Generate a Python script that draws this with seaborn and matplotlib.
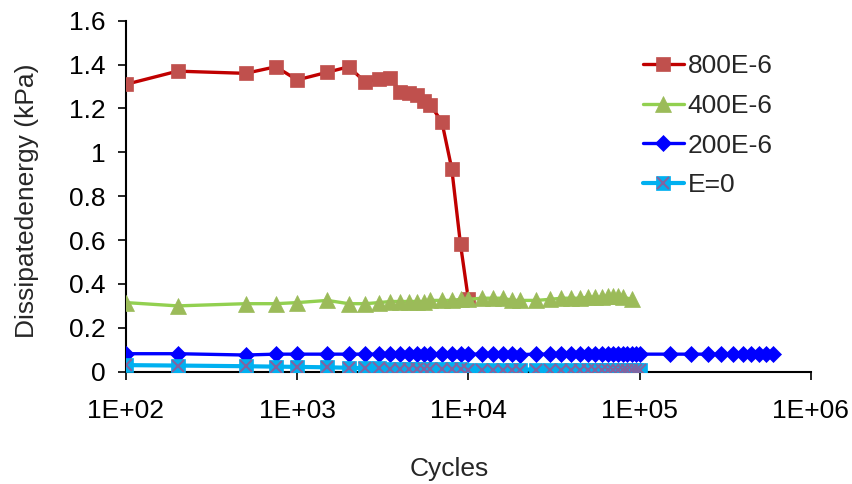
import numpy as np
import pandas as pd
import matplotlib
matplotlib.use("Agg")
import matplotlib.pyplot as plt
import seaborn as sns
from matplotlib.legend_handler import HandlerTuple
from matplotlib.ticker import FixedLocator, NullLocator

# data
cycles_800 = [100, 200, 500, 750, 1000, 1500, 2000, 2500, 3000, 3500, 4000, 4500,
              5000, 5500, 6000, 7000, 8000, 9000, 10000]
energy_800 = [1.31, 1.37, 1.36, 1.39, 1.33, 1.365, 1.39, 1.32, 1.335, 1.34, 1.275, 1.27,
              1.26, 1.235, 1.215, 1.14, 0.925, 0.58, 0.33]

cycles_400 = [100, 200, 500, 750, 1000, 1500, 2000, 2500, 3000, 3500, 4000, 4500,
              5000, 5500, 6000, 7000, 8000, 9000, 10000, 12000, 14000, 16000, 18000,
              20000, 25000, 30000, 35000, 40000, 45000, 50000, 55000, 60000, 65000,
              70000, 75000, 80000, 90000]
energy_400 = [0.315, 0.30, 0.31, 0.31, 0.315, 0.325, 0.31, 0.31, 0.315, 0.32, 0.32, 0.32,
              0.32, 0.32, 0.325, 0.325, 0.325, 0.33, 0.33, 0.335, 0.335, 0.335, 0.325,
              0.325, 0.325, 0.33, 0.335, 0.335, 0.335, 0.34, 0.34, 0.34, 0.345,
              0.345, 0.345, 0.34, 0.33]

cycles_200 = [100, 200, 500, 750, 1000, 1500, 2000, 2500, 3000, 3500, 4000, 4500,
              5000, 5500, 6000, 7000, 8000, 9000, 10000, 12000, 14000, 16000, 18000,
              20000, 25000, 30000, 35000, 40000, 45000, 50000, 55000, 60000, 65000,
              70000, 75000, 80000, 85000, 90000, 95000, 100000, 150000, 200000,
              250000, 300000, 350000, 400000, 450000, 500000, 550000, 600000]
energy_200 = [0.082, 0.082, 0.076, 0.08, 0.08, 0.08, 0.08, 0.08, 0.08, 0.08, 0.08, 0.08,
              0.08, 0.08, 0.08, 0.08, 0.08, 0.08, 0.08, 0.08, 0.08, 0.08, 0.08,
              0.078, 0.08, 0.08, 0.08, 0.08, 0.08, 0.08, 0.08, 0.08, 0.08,
              0.08, 0.08, 0.08, 0.08, 0.08, 0.08, 0.08, 0.08, 0.08,
              0.08, 0.08, 0.08, 0.08, 0.08, 0.08, 0.08, 0.08]

cycles_0 = [100, 200, 500, 750, 1000, 1500, 2000, 2500, 3000, 3500, 4000, 4500,
            5000, 5500, 6000, 7000, 8000, 9000, 10000, 12000, 14000, 16000, 18000,
            20000, 25000, 30000, 35000, 40000, 45000, 50000, 55000, 60000, 65000,
            70000, 75000, 80000, 85000, 90000, 95000, 100000]
energy_0 = [0.03, 0.028, 0.025, 0.023, 0.022, 0.02, 0.018, 0.016, 0.015, 0.014, 0.013, 0.013,
            0.012, 0.012, 0.012, 0.011, 0.011, 0.011, 0.01, 0.01, 0.01, 0.01, 0.01,
            0.01, 0.01, 0.009, 0.009, 0.009, 0.009, 0.009, 0.009, 0.008, 0.008,
            0.008, 0.008, 0.008, 0.008, 0.008, 0.008, 0.008]

tick_vals = [1e2, 1e3, 1e4, 1e5, 1e6]
tick_labels = ["1E+02", "1E+03", "1E+04", "1E+05", "1E+06"]

sns.set_style("white")
plt.rcParams["font.family"] = ["Liberation Sans", "DejaVu Sans"]
fs = 19

fig = plt.figure(figsize=(8.53, 4.84), dpi=100)
ax = fig.add_axes([126 / 853, 1 - 371.7 / 484, (810.7 - 126) / 853, (371.7 - 20.7) / 484])

df800 = pd.DataFrame({"Cycles": cycles_800, "energy": energy_800})
df400 = pd.DataFrame({"Cycles": cycles_400, "energy": energy_400})
df200 = pd.DataFrame({"Cycles": cycles_200, "energy": energy_200})
df0 = pd.DataFrame({"Cycles": cycles_0, "energy": energy_0})

sns.lineplot(data=df800, x="Cycles", y="energy", ax=ax, color="#C00000", lw=2.4,
             marker="s", markersize=10.5, markerfacecolor="#C0504D",
             markeredgecolor="#C0504D", markeredgewidth=0.5, zorder=3, label="800E-6")
sns.lineplot(data=df400, x="Cycles", y="energy", ax=ax, color="#92D050", lw=2.4,
             marker="^", markersize=11.5, markerfacecolor="#9BBB59",
             markeredgecolor="#9BBB59", markeredgewidth=0.5, zorder=4, label="400E-6")
sns.lineplot(data=df200, x="Cycles", y="energy", ax=ax, color="#0000FF", lw=2.4,
             marker="D", markersize=8, markerfacecolor="#0000FF",
             markeredgecolor="#0000FF", markeredgewidth=0.5, zorder=5, label="200E-6")
sns.lineplot(data=df0, x="Cycles", y="energy", ax=ax, color="#00B0F0", lw=3,
             marker="s", markersize=9.5, markerfacecolor="#00B0F0",
             markeredgecolor="#00B0F0", markeredgewidth=0.5, zorder=6, label="E=0")
sns.lineplot(data=df0, x="Cycles", y="energy", ax=ax, color="#8064A2", lw=0,
             marker="x", markersize=9, markeredgecolor="#8064A2",
             markeredgewidth=1.5, zorder=7, label="_x")

ax.set_xscale("log")
ax.set_xlim(1e2, 1e6)
ax.set_ylim(0, 1.6)
ax.xaxis.set_major_locator(FixedLocator(tick_vals))
ax.set_xticklabels(tick_labels)
ax.xaxis.set_minor_locator(NullLocator())
ax.set_yticks([0, 0.2, 0.4, 0.6, 0.8, 1.0, 1.2, 1.4, 1.6])
ax.set_yticklabels(["0", "0.2", "0.4", "0.6", "0.8", "1", "1.2", "1.4", "1.6"])

for side in ["top", "right"]:
    ax.spines[side].set_visible(False)
for side in ["left", "bottom"]:
    ax.spines[side].set_color("black")
    ax.spines[side].set_linewidth(1.5)
ax.tick_params(axis="both", which="major", direction="out", length=6, width=1.2,
               color="black", labelsize=fs, labelcolor="black")
ax.tick_params(axis="x", pad=14, bottom=True)
ax.tick_params(axis="y", pad=9, left=True)

ax.set_xlabel("Cycles", fontsize=fs)
ax.set_ylabel("Dissipatedenergy (kPa)", fontsize=fs)
ax.xaxis.set_label_coords((449 - 126) / 684.7, (371.7 - 457) / 351)
ax.yaxis.set_label_coords((39 - 126) / 684.7, (371.7 - 201) / 351)

lines = ax.get_lines()
h = [lines[0], lines[1], lines[2], (lines[3], lines[4])]
ax.legend(h, ["800E-6", "400E-6", "200E-6", "E=0"],
          handler_map={tuple: HandlerTuple(ndivide=1)},
          loc="upper left", bbox_to_anchor=(643 / 853, 1 - 54 / 484),
          bbox_transform=fig.transFigure, frameon=False, fontsize=fs,
          handlelength=1.55, handletextpad=0.15, labelspacing=0.6,
          borderpad=0, borderaxespad=0)

fig.savefig("out.png", dpi=100)
